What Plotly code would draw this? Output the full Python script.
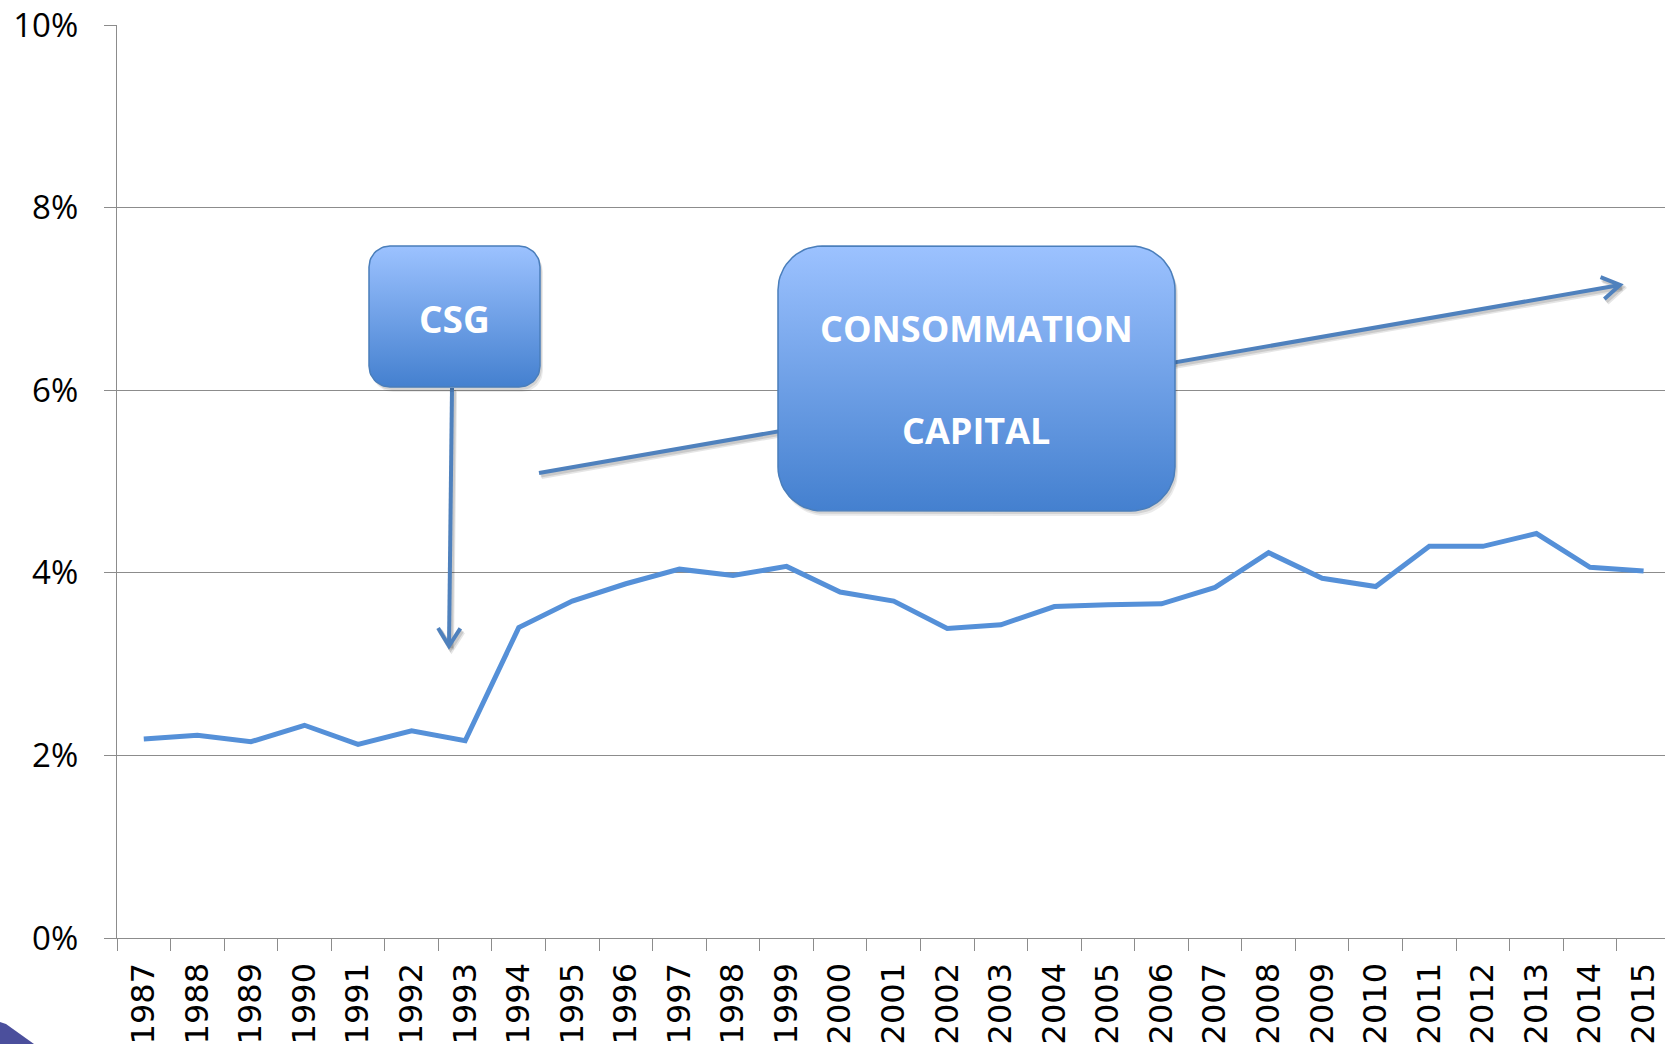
import numpy as np
import plotly.graph_objects as go

# ---------------- data ----------------
years = ["1987", "1988", "1989", "1990", "1991", "1992", "1993", "1994", "1995", "1996",
         "1997", "1998", "1999", "2000", "2001", "2002", "2003", "2004", "2005", "2006",
         "2007", "2008", "2009", "2010", "2011", "2012", "2013", "2014", "2015"]
rates = [2.18, 2.22, 2.15, 2.33, 2.12, 2.27, 2.16, 3.40, 3.69, 3.88,
         4.04, 3.97, 4.07, 3.79, 3.69, 3.39, 3.43, 3.63, 3.65, 3.66,
         3.84, 4.22, 3.94, 3.85, 4.29, 4.29, 4.43, 4.06, 4.02]
y_ticks = [0, 2, 4, 6, 8, 10]
box_labels = ["<b>CSG</b>", "<b>CONSOMMATION</b>", "<b>CAPITAL</b>"]

# ---------------- layout constants ----------------
W, H = 1665, 1044
L, R, T, B = 117, 0, 25, 106
GRID = "#8C8C8C"
LINE = "#5590D8"
ARROW = "#4F81BD"
BOX_TOP = "#9CC2FF"
BOX_BOT = "#4480CF"
BOX_EDGE = "#4A7EBB"


def rrect(x0, y0, x1, y1, r, n=16):
    xs, ys = [], []
    corners = [((x0 + r, y0 + r), 180, 270), ((x1 - r, y0 + r), 270, 360),
               ((x1 - r, y1 - r), 0, 90), ((x0 + r, y1 - r), 90, 180)]
    for (cx, cy), a0, a1 in corners:
        a = np.radians(np.linspace(a0, a1, n))
        xs += list(cx + r * np.cos(a))
        ys += list(cy + r * np.sin(a))
    xs.append(xs[0])
    ys.append(ys[0])
    return xs, ys


fig = go.Figure()

# main data line
fig.add_trace(go.Scatter(x=years, y=rates, mode="lines",
                         line=dict(color=LINE, width=5),
                         xaxis="x", yaxis="y", showlegend=False, hoverinfo="skip"))


def add_line(pts, color, width):
    xs = [p[0] for p in pts]
    ys = [p[1] for p in pts]
    fig.add_trace(go.Scatter(x=xs, y=ys, mode="lines",
                             line=dict(color=color, width=width),
                             xaxis="x2", yaxis="y2", showlegend=False, hoverinfo="skip"))


def add_arrow(x0, y0, x1, y1, head=21, ang=32):
    d = np.array([x1 - x0, y1 - y0], dtype=float)
    d /= np.linalg.norm(d)
    heads = []
    for s in (1, -1):
        a = np.radians(ang * s)
        rot = np.array([[np.cos(a), -np.sin(a)], [np.sin(a), np.cos(a)]])
        v = rot @ (-d) * head
        heads.append((x1 + v[0], y1 + v[1]))
    pts_shaft = [(x0, y0), (x1, y1)]
    pts_head = [heads[0], (x1, y1), heads[1]]
    for dx, dy, c in [(2.5, 3.5, "rgba(0,0,0,0.10)"), (1.5, 2.0, "rgba(0,0,0,0.12)")]:
        add_line([(p[0] + dx, p[1] + dy) for p in pts_shaft], c, 5)
        add_line([(p[0] + dx, p[1] + dy) for p in pts_head], c, 5)
    add_line(pts_shaft, ARROW, 4)
    add_line(pts_head, ARROW, 4)


def add_box(x0, y0, x1, y1, r):
    for dx, dy, c in [(3, 5, "rgba(0,0,0,0.08)"), (2, 3, "rgba(0,0,0,0.10)")]:
        xs, ys = rrect(x0 + dx, y0 + dy, x1 + dx, y1 + dy, r)
        fig.add_trace(go.Scatter(x=xs, y=ys, mode="lines", fill="toself",
                                 fillcolor=c, line=dict(width=0),
                                 xaxis="x2", yaxis="y2", showlegend=False, hoverinfo="skip"))
    xs, ys = rrect(x0, y0, x1, y1, r)
    fig.add_trace(go.Scatter(x=xs, y=ys, mode="lines", fill="toself",
                             fillgradient=dict(type="vertical", start=y0, stop=y1,
                                               colorscale=[[0, BOX_TOP], [1, BOX_BOT]]),
                             line=dict(color=BOX_EDGE, width=1.5),
                             xaxis="x2", yaxis="y2", showlegend=False, hoverinfo="skip"))


# arrows (drawn before boxes so the boxes cover them)
add_arrow(539, 473, 1620, 285)
add_arrow(452, 388, 449, 646)

# boxes
add_box(369, 246, 540, 387, 21)
add_box(778, 246, 1175, 511, 44)

annotations = [
    dict(x=454, y=318, text=box_labels[0], size=37),
    dict(x=976, y=328, text=box_labels[1], size=36),
    dict(x=976, y=430, text=box_labels[2], size=36),
]
for a in annotations:
    s = a.pop("size")
    a.update(xref="x2", yref="y2", showarrow=False,
             font=dict(family="Open Sans", size=s, color="white"))

pw, ph = W - L - R, H - T - B


def paper(px, py):
    return (px - L) / pw, (H - B - py) / ph


corner = [(0, 1022), (6, 1024), (34, 1044), (0, 1044)]
cp = [paper(*p) for p in corner]
path = "M " + " L ".join(f"{x:.5f},{y:.5f}" for x, y in cp) + " Z"

fig.update_layout(
    width=W, height=H,
    margin=dict(l=L, r=R, t=T, b=B, pad=0, autoexpand=False),
    paper_bgcolor="white", plot_bgcolor="white",
    showlegend=False,
    font=dict(family="Open Sans", color="black"),
    annotations=annotations,
    shapes=[dict(type="path", path=path, xref="paper", yref="paper",
                 fillcolor="#4B4F9C", line=dict(width=0), layer="above")],
    xaxis=dict(type="category", range=[-0.5, 28.4], tickson="boundaries",
               ticks="outside", ticklen=12, tickwidth=1.3, tickcolor=GRID,
               showgrid=False, showline=True, linecolor=GRID, linewidth=1.3,
               tickangle=-90, tickfont=dict(size=32, family="DejaVu Sans", color="black"),
               ticklabelstandoff=11, automargin=False, fixedrange=True),
    yaxis=dict(range=[0, 10], tickvals=y_ticks, ticktext=[f"{v}%" for v in y_ticks],
               ticks="outside", ticklen=12, tickwidth=1.3, tickcolor=GRID,
               showgrid=True, gridcolor=GRID, gridwidth=1.3, zeroline=False,
               showline=True, linecolor=GRID, linewidth=1.3,
               tickfont=dict(size=33, family="Open Sans", color="black"),
               ticklabelstandoff=19, automargin=False, fixedrange=True),
    xaxis2=dict(overlaying="x", range=[L, W - R], visible=False, fixedrange=True),
    yaxis2=dict(overlaying="y", range=[H - B, T], visible=False, fixedrange=True),
)

fig.write_html("out.html", config={"displayModeBar": False},
               post_script="document.body.style.margin='0';document.body.style.overflow='hidden';")
